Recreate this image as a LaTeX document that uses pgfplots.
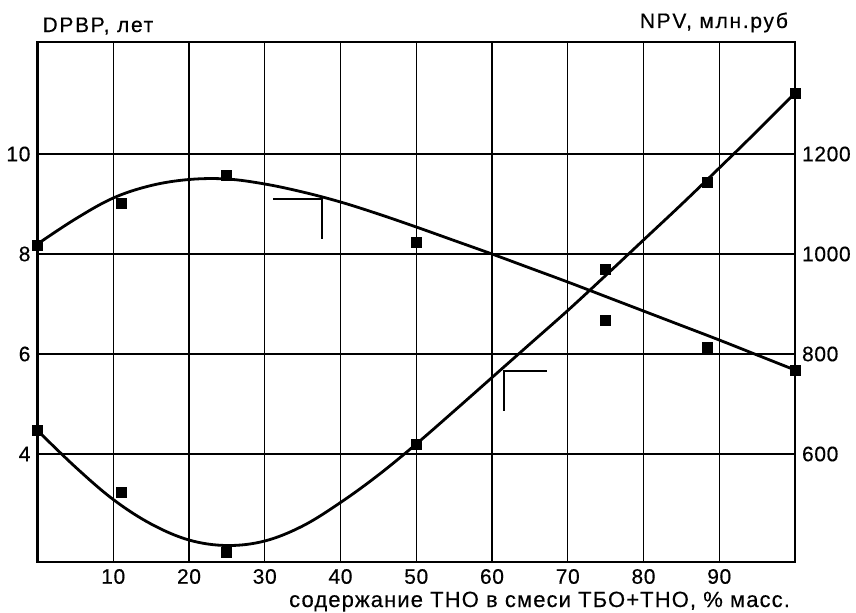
\documentclass[border=0pt]{standalone}
\usepackage{pgfplots}
\pgfplotsset{compat=1.18}
\usepackage{fontspec}
\setmainfont{Liberation Sans}
\newfontfamily\titlefont[LetterSpace=8,FakeBold=0.4]{Liberation Sans}
\newfontfamily\xlabfont[LetterSpace=5,FakeBold=0.4]{Liberation Sans}
\newfontfamily\tickfont[LetterSpace=3,FakeBold=0.4]{Liberation Sans}

\begin{document}
\begin{tikzpicture}
\path[use as bounding box] (-18.75pt,-25pt) rectangle (409.25pt,281pt);
\pgfplotsset{
  base/.style={
    scale only axis, width=378.75pt, height=260pt,
    xmin=0, xmax=100,
    at={(0pt,0pt)}, anchor=south west,
    tick label style={font=\tickfont\fontsize{10.5}{12}\selectfont},
    /pgf/number format/assume math mode=true,
    /pgf/number format/1000 sep={},
    major tick length=0pt,
    clip=false,
  }
}
% DPBP (left axis)
\begin{axis}[base,
  ymin=1.84, ymax=12.24,
  xtick={10,20,...,90}, ytick={4,6,8,10},
  grid=major, grid style={black, line width=0.55pt},
  axis line style={line width=1.4pt},
]
\addplot[black, line width=1.4pt, smooth, tension=0.6] coordinates {
(0,8.20) (5,8.70) (10,9.12) (15,9.37) (20,9.49) (25,9.50) (30,9.40) (35,9.24)
(40,9.04) (45,8.80) (50,8.54) (55,8.27) (60,8.00) (65,7.72) (70,7.44) (75,7.15)
(80,6.86) (85,6.57) (90,6.28) (95,5.98) (100,5.68)};
\addplot[only marks, mark=square*, mark size=2.5pt, black] coordinates {
(0,8.18) (11.1,9.01) (25,9.58) (50,8.24) (75,6.68) (88.5,6.13) (100,5.68)};
\addplot[black, line width=1pt] coordinates {(31.1,9.11) (37.5,9.11) (37.5,8.30)};
\node[anchor=base west, font=\titlefont\fontsize{10.5}{12}\selectfont] at (axis description cs:0,1) [yshift=5pt, xshift=-1pt] {DPBP, лет};
\node[anchor=base east, font=\xlabfont\fontsize{11}{13}\selectfont] at (axis description cs:1,0) [yshift=-22.5pt, xshift=1pt] {содержание ТНО в смеси ТБО+ТНО, \% масс.};
\end{axis}
% NPV (right axis)
\begin{axis}[base,
  ymin=384, ymax=1424,
  axis x line=none, axis y line*=right,
  ytick={600,800,1000,1200},
  axis line style={line width=1.4pt},
  yticklabel style={anchor=west},
]
\addplot[black, line width=1.4pt, smooth, tension=0.6] coordinates {
(0,647) (5,574) (10,509) (15,460) (20,428) (25,417) (30,426) (35,456)
(40,503) (45,558) (50,620) (55,686) (60,753) (65,820) (70,887) (75,957)
(80,1028) (85,1099) (90,1172) (95,1246) (100,1322)};
\addplot[only marks, mark=square*, mark size=2.5pt, black] coordinates {
(0,647) (11.1,524) (25,403) (50,619) (75,970) (88.5,1143) (100,1322)};
\addplot[black, line width=1pt] coordinates {(67.2,767) (61.6,767) (61.6,686)};
\node[anchor=base east, font=\titlefont\fontsize{10.5}{12}\selectfont] at (axis description cs:1,1) [yshift=7pt, xshift=0pt] {NPV, млн.руб};
\end{axis}
\end{tikzpicture}
\end{document}
